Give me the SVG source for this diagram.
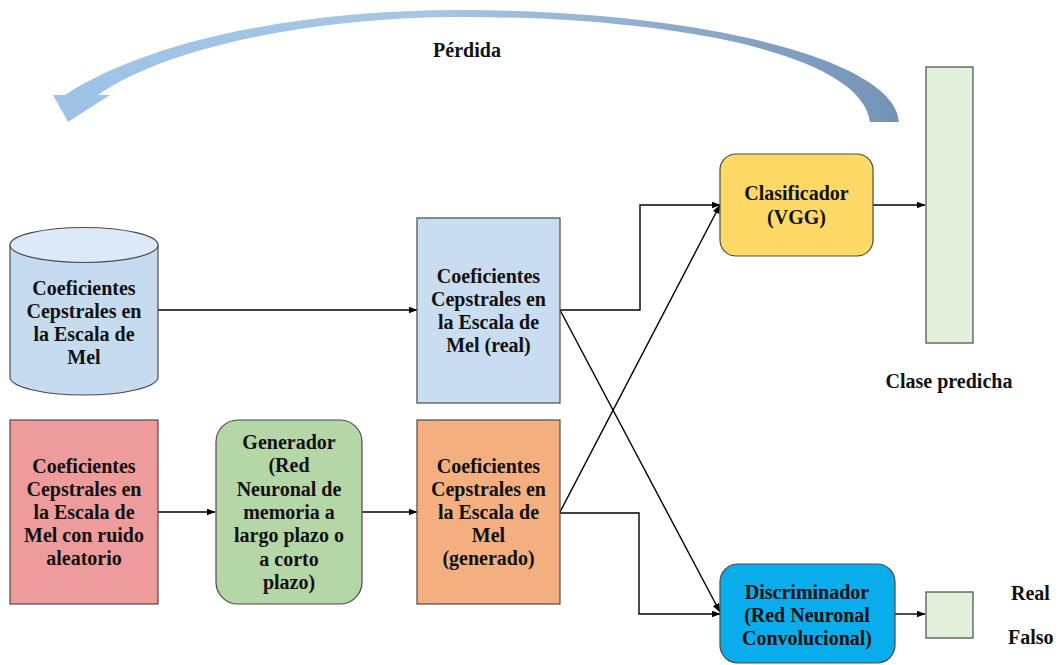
<svg xmlns="http://www.w3.org/2000/svg" width="1058" height="665" viewBox="0 0 1058 665" font-family="'Liberation Serif', 'DejaVu Serif', 'Times New Roman', serif">
  <defs>
    <linearGradient id="lossGrad" x1="0" y1="0" x2="1" y2="0">
      <stop offset="0" stop-color="#9DC3E7"/>
      <stop offset="0.45" stop-color="#A8C6E3"/>
      <stop offset="0.75" stop-color="#8DA9C9"/>
      <stop offset="1" stop-color="#7393B6"/>
    </linearGradient>
    <marker id="arrow" markerUnits="userSpaceOnUse" markerWidth="9" markerHeight="7" refX="8.5" refY="3.5" orient="auto">
      <path d="M0,0 L9,3.5 L0,7 z" fill="#000"/>
    </marker>
    <style>
      text { font-family: 'Liberation Serif', 'DejaVu Serif', 'Times New Roman', serif; }
      .lbl { font-weight: bold; font-size: 20px; fill: #111; text-anchor: middle; }
      .box { stroke: #4a4a4a; stroke-width: 1.2; }
      .conn { fill: none; stroke: #000; stroke-width: 1.4; marker-end: url(#arrow); }
    </style>
  </defs>

  <rect width="1058" height="665" fill="#fff"/>

  <!-- Loss feedback arrow -->
  <g id="loss">
    <path d="M 899 122 C 896 60 700 10 460 10 C 300 10 150 40 65 95 L 53 95 L 68 122 L 110 95 L 98 95 C 170 45 320 17 460 17 C 680 17 862 55 870 122 Z" fill="url(#lossGrad)"/>
    <text class="lbl" x="467" y="57">Pérdida</text>
  </g>

  <!-- Connectors -->
  <g id="connectors">
    <path class="conn" d="M 158 310 H 417"/>
    <path class="conn" d="M 158 512 H 215"/>
    <path class="conn" d="M 362 512 H 417"/>
    <path class="conn" d="M 560 310 H 640 V 205 H 720"/>
    <path class="conn" d="M 560 310 L 720 612"/>
    <path class="conn" d="M 560 512 L 720 205"/>
    <path class="conn" d="M 560 513 H 639 V 614 H 720"/>
    <path class="conn" d="M 873 205 H 925"/>
    <path class="conn" d="M 895 614 H 925"/>
  </g>

  <!-- Mel cepstral coefficients database -->
  <g id="mfcc-db">
    <path class="box" d="M 10 245 V 377 A 74 18 0 0 0 158 377 V 245" fill="#C7DBEF"/>
    <ellipse class="box" cx="84" cy="245" rx="74" ry="17.5" fill="#DCE9F6"/>
    <text class="lbl" x="84" y="295">Coeficientes</text>
    <text class="lbl" x="84" y="318">Cepstrales en</text>
    <text class="lbl" x="84" y="341">la Escala de</text>
    <text class="lbl" x="84" y="364">Mel</text>
  </g>

  <!-- Real coefficients -->
  <g id="mfcc-real">
    <rect class="box" x="417" y="218" width="143" height="185" fill="#C9DCF0"/>
    <text class="lbl" x="488.5" y="283">Coeficientes</text>
    <text class="lbl" x="488.5" y="306">Cepstrales en</text>
    <text class="lbl" x="488.5" y="329">la Escala de</text>
    <text class="lbl" x="488.5" y="352">Mel (real)</text>
  </g>

  <!-- Noisy coefficients -->
  <g id="mfcc-noise">
    <rect class="box" x="10" y="420" width="148" height="184" fill="#EE9B9B"/>
    <text class="lbl" x="84" y="473">Coeficientes</text>
    <text class="lbl" x="84" y="496">Cepstrales en</text>
    <text class="lbl" x="84" y="519">la Escala de</text>
    <text class="lbl" x="84" y="542">Mel con ruido</text>
    <text class="lbl" x="84" y="565">aleatorio</text>
  </g>

  <!-- Generator -->
  <g id="generator">
    <rect class="box" x="216" y="420" width="146" height="184" rx="22" fill="#B5D6A7"/>
    <text class="lbl" x="289" y="449">Generador</text>
    <text class="lbl" x="289" y="472">(Red</text>
    <text class="lbl" x="289" y="496">Neuronal de</text>
    <text class="lbl" x="289" y="519">memoria a</text>
    <text class="lbl" x="289" y="542">largo plazo  o</text>
    <text class="lbl" x="289" y="566">a corto</text>
    <text class="lbl" x="289" y="589">plazo)</text>
  </g>

  <!-- Generated coefficients -->
  <g id="mfcc-gen">
    <rect class="box" x="417" y="420" width="143" height="184" fill="#F3AF7F"/>
    <text class="lbl" x="488.5" y="473">Coeficientes</text>
    <text class="lbl" x="488.5" y="496">Cepstrales en</text>
    <text class="lbl" x="488.5" y="519">la Escala de</text>
    <text class="lbl" x="488.5" y="542">Mel</text>
    <text class="lbl" x="488.5" y="565">(generado)</text>
  </g>

  <!-- Classifier -->
  <g id="classifier">
    <rect class="box" x="720" y="154" width="153" height="102" rx="16" fill="#FFD966"/>
    <text class="lbl" x="796.5" y="200">Clasificador</text>
    <text class="lbl" x="796.5" y="224">(VGG)</text>
  </g>

  <!-- Predicted class output -->
  <g id="class-output">
    <rect class="box" x="926" y="67" width="47" height="276" fill="#E2EFDA"/>
    <text class="lbl" x="949" y="388">Clase predicha</text>
  </g>

  <!-- Discriminator -->
  <g id="discriminator">
    <rect class="box" x="720" y="564" width="175" height="99" rx="18" fill="#0AADEB"/>
    <text class="lbl" x="807" y="599">Discriminador</text>
    <text class="lbl" x="807" y="622">(Red Neuronal</text>
    <text class="lbl" x="807" y="645">Convolucional)</text>
  </g>

  <!-- Real / fake output -->
  <g id="rf-output">
    <rect class="box" x="926" y="592" width="47" height="46" fill="#E2EFDA"/>
    <text class="lbl" x="1011" y="600" style="text-anchor:start">Real</text>
    <text class="lbl" x="1008" y="644" style="text-anchor:start">Falso</text>
  </g>
</svg>
